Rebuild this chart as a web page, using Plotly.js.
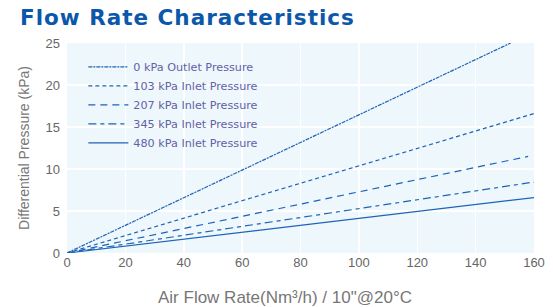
<!DOCTYPE html>
<html><head><meta charset="utf-8">
<script src="https://cdn.plot.ly/plotly-3.0.1.min.js"></script>
<style>html,body{margin:0;padding:0;background:#fff}#c{width:553px;height:307px}.gtitle{letter-spacing:1px}</style>
</head><body><div id="c"></div>
<script>
const seriesNames = ["0 kPa Outlet Pressure","103 kPa Inlet Pressure","207 kPa Inlet Pressure","345 kPa Inlet Pressure","480 kPa Inlet Pressure"];
const xStart = [0,0,0,0,0];
const xEnd = [152,160,158,160,160];
const yStart = [0,0,0,0,0];
const yEnd = [25,16.6,11.5,8.45,6.6];
const dashes = ["4px,1px,2px,1px","4px,3px","7px,5px","8px,4px,4px,4px","solid"];
const xTicks = [0,20,40,60,80,100,120,140,160];
const yTicks = [0,5,10,15,20,25];
const xTitle = 'Air Flow Rate(Nm³/h) / 10"@20°C';

const traces = seriesNames.map((n,i)=>({
  type:'scatter', mode:'lines', name:n,
  x:[xStart[i],xEnd[i]], y:[yStart[i],yEnd[i]],
  line:{color:'#1e63b6', width:1.2, dash:dashes[i]},
  cliponaxis:false
}));
const layout = {
  width:553, height:307,
  margin:{l:67,r:19,t:43,b:54},
  paper_bgcolor:'#ffffff', plot_bgcolor:'#eef7fc',
  font:{family:'Liberation Sans, Arial, sans-serif', color:'#666'},
  title:{text:'<b>Flow Rate Characteristics</b>', x:20/553, xanchor:'left', y:1-17.5/307, yanchor:'middle',
    font:{size:21.5, color:'#0b58aa', family:'DejaVu Sans, sans-serif'}},
  xaxis:{range:[0,160], tickvals:xTicks, showgrid:true, gridcolor:'#ffffff', gridwidth:1.5, zeroline:false,
    showline:false, ticks:'', tickfont:{size:13,color:'#666'}},
  yaxis:{range:[0,25], tickvals:yTicks, showgrid:true, gridcolor:'#ffffff', gridwidth:1.5, zeroline:false,
    showline:false, ticks:'', tickfont:{size:13,color:'#666'}, ticklabelstandoff:6,
    title:{text:'Differential Pressure (kPa)', font:{size:14,color:'#777'}, standoff:12}},
  annotations:[{text:xTitle, xref:'paper', yref:'paper', x:(285-67)/467, y:-44/210, xanchor:'center', yanchor:'middle',
    showarrow:false, font:{size:17,color:'#777'}}],
  showlegend:true,
  legend:{x:0.035, y:0.955, xanchor:'left', yanchor:'top', bgcolor:'rgba(0,0,0,0)',
    font:{size:11.2,color:'#6262a6', family:'DejaVu Sans, sans-serif'}, tracegroupgap:0, itemwidth:40}
};
Plotly.newPlot('c', traces, layout, {displayModeBar:false, staticPlot:true});
</script></body></html>
